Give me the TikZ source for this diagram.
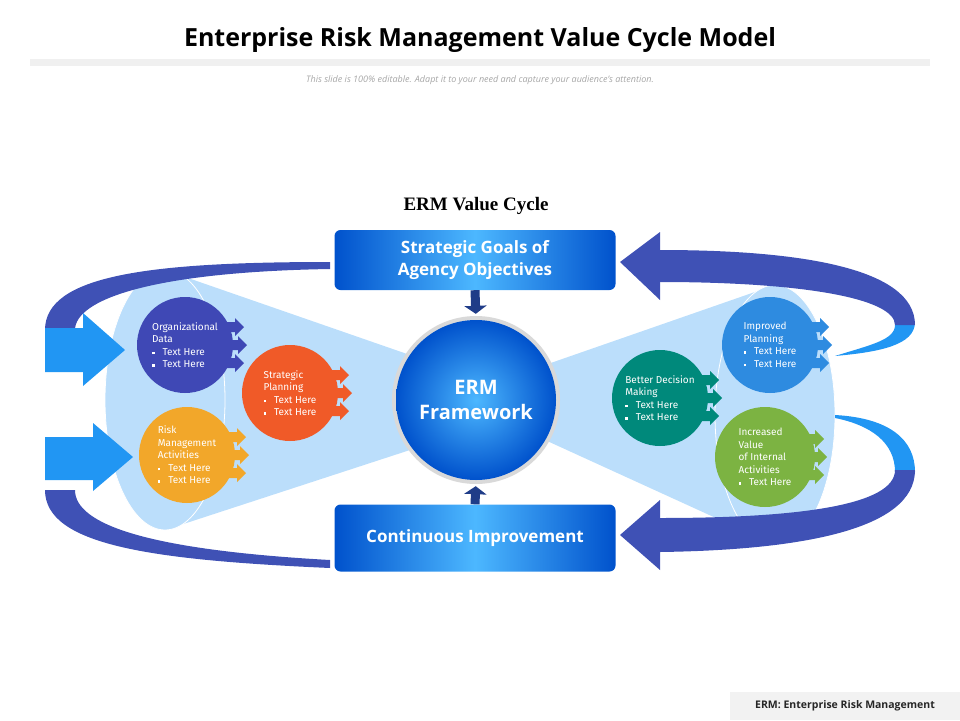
\documentclass[tikz,border=0pt]{standalone}
\usepackage{fontspec}
\setmainfont{Open Sans}
\newfontfamily\serifb{Liberation Serif}
\newfontfamily\narrowf{Fira Sans}
\usetikzlibrary{arrows.meta,shadings}
\definecolor{navy}{HTML}{1F3C88}
\definecolor{band}{HTML}{3F51B5}
\definecolor{lightband}{HTML}{2196F3}
\definecolor{cone}{HTML}{BBDEFB}
\definecolor{orgc}{HTML}{3F48B5}
\definecolor{riskc}{HTML}{F2A72A}
\definecolor{stratc}{HTML}{F05A28}
\definecolor{betterc}{HTML}{00897B}
\definecolor{imprc}{HTML}{2E8BE0}
\definecolor{incrc}{HTML}{7CB342}
\tikzset{
  goalbox/.style={rounded corners=6pt, minimum width=281pt, minimum height=60pt,
    left color=blue!60!cyan!80!black, right color=blue!60!cyan!80!black, middle color=cyan!60!blue!70,
    text=white, font=\bfseries\fontsize{17}{22}\selectfont, align=center},
  stepcircle/.style={circle, fill=#1, minimum size=96pt, inner sep=0pt, text=white,
    font=\narrowf\fontsize{10}{12.5}\selectfont, align=left},
  cyclearrow/.style={line width=9pt, navy, -{Triangle[length=8pt,width=22pt]}, shorten >=6pt},
}
\newcommand{\bul}{\rule[1pt]{2.5pt}{2.5pt}\hspace{8pt}}
\newcommand{\chevron}[3]{% x, y, colour
  \fill[#3] (#1,#2-5) -- ++(10,0) -- ++(0,-4) -- ++(9,9) -- ++(-9,9) -- ++(0,-4) -- ++(-10,0) -- cycle;}
\begin{document}
\begin{tikzpicture}[x=1pt,y=-1pt]
\useasboundingbox (0,0) rectangle (960,720);
% heading
\node (title) at (480,40) {\bfseries\fontsize{25}{28}\selectfont Enterprise Risk Management Value Cycle Model};
\fill[gray!12] (30,59) rectangle (930,66);
\node[text=gray!70, font=\itshape\fontsize{9}{11}\selectfont] (sub) at (480,80)
  {This slide is 100\% editable. Adapt it to your need and capture your audience's attention.};
\node[font=\serifb\bfseries\fontsize{19}{22}\selectfont] (cyc) at (476,206) {ERM Value Cycle};
% cones and ellipses
\fill[cone] (165,270) -- (410,355) -- (410,450) -- (165,530) -- cycle;
\fill[cone] (775,285) -- (545,365) -- (545,440) -- (775,545) -- cycle;
\fill[cone, draw=white, thick] (165,400) ellipse [x radius=60, y radius=130];
\fill[cone, draw=white, thick] (775,415) ellipse [x radius=60, y radius=130];
% swoosh arrows, left
\fill[band] (330,262) .. controls (150,262) and (45,275) .. (45,330) -- (75,330) .. controls (75,300) and (150,272) .. (330,269) -- cycle;
\fill[lightband] (45,328) -- (83,328) -- (83,313) -- (125,350) -- (83,386) -- (83,372) -- (45,372) -- cycle;
\fill[band] (45,490) .. controls (45,545) and (150,560) .. (330,568) -- (330,560) .. controls (150,550) and (75,525) .. (75,490) -- cycle;
\fill[lightband] (45,437) -- (93,437) -- (93,423) -- (133,457) -- (93,491) -- (93,480) -- (45,480) -- cycle;
% swoosh arrows, right
\fill[lightband] (915,322) .. controls (915,345) and (880,352) .. (835,356) .. controls (870,345) and (895,340) .. (895,325) -- cycle;
\fill[band] (660,250) .. controls (800,250) and (915,268) .. (915,325) -- (895,325) .. controls (895,298) and (800,282) .. (660,282) -- cycle;
\fill[band] (660,232) -- (620,262) -- (660,300) -- cycle;
\fill[lightband] (835,415) .. controls (890,418) and (915,440) .. (915,472) -- (895,472) .. controls (895,442) and (870,425) .. (835,418) -- cycle;
\fill[band] (660,518) .. controls (800,518) and (895,505) .. (895,470) -- (915,470) .. controls (915,530) and (800,550) .. (660,552) -- cycle;
\fill[band] (660,500) -- (620,535) -- (660,570) -- cycle;
% boxes and hub
\node[goalbox] (goals) at (475,260) {Strategic Goals of\\Agency Objectives};
\node[goalbox, minimum height=67pt] (improve) at (475,538) {Continuous Improvement};
\fill[gray!30] (476,400) circle (84);
\node[circle, minimum size=160pt, shading=radial, inner color=cyan!60!blue!70, outer color=blue!60!cyan!80!black,
  text=white, font=\bfseries\fontsize{20}{25}\selectfont, align=center] (erm) at (476,400) {ERM\\Framework};
\draw[cyclearrow] (goals.south) -- (erm.north);
\draw[cyclearrow] (improve.north) -- (erm.south);
% steps
\foreach \x/\y/\c in {185/345/orgc, 187/455/riskc, 290/393/stratc, 660/398/betterc, 770/345/imprc, 765/457/incrc}{
  \chevron{\x+40}{\y-18}{\c}
  \chevron{\x+43}{\y}{\c}
  \chevron{\x+40}{\y+18}{\c}
}
\node[stepcircle=orgc] (org) at (185,345) {Organizational\\Data\\\bul Text Here\\\bul Text Here};
\node[stepcircle=riskc] (risk) at (187,455) {Risk\\Management\\Activities\\\bul Text Here\\\bul Text Here};
\node[stepcircle=stratc] (strat) at (290,393) {Strategic\\Planning\\\bul Text Here\\\bul Text Here};
\node[stepcircle=betterc] (better) at (660,398) {Better Decision\\Making\\\bul Text Here\\\bul Text Here};
\node[stepcircle=imprc] (impr) at (770,345) {Improved\\Planning\\\bul Text Here\\\bul Text Here};
\node[stepcircle=incrc, minimum size=100pt] (incr) at (765,457) {Increased\\Value\\of Internal\\Activities\\\bul Text Here};
% footnote
\node[fill=gray!10, minimum width=230pt, minimum height=28pt, font=\bfseries\fontsize{10.5}{12}\selectfont, text=black!85] (note) at (845,706) {ERM: Enterprise Risk Management};
\end{tikzpicture}
\end{document}
